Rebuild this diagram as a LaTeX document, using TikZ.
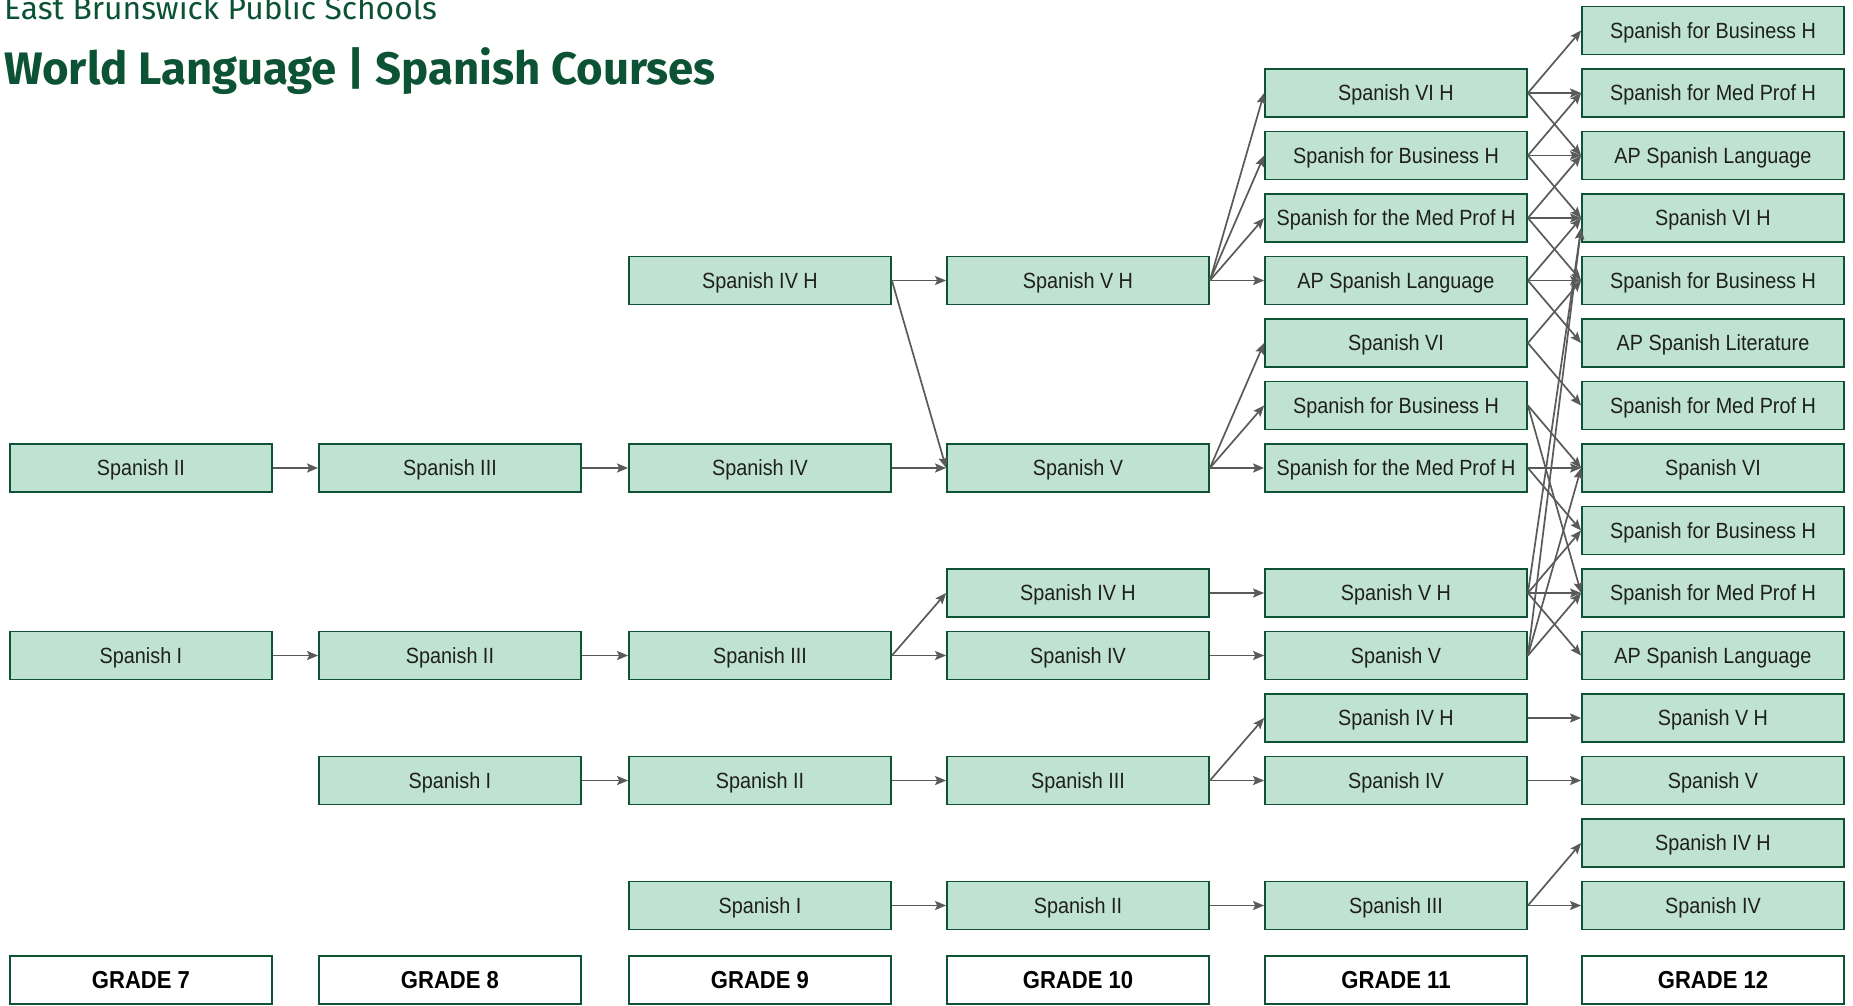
\documentclass[tikz,border=0pt]{standalone}
\usepackage{fontspec}
\setmainfont{Liberation Sans}
\newfontfamily\boxfont[FakeStretch=0.9]{Liberation Sans}
\newfontfamily\ttlfont{Fira Sans}
\usetikzlibrary{arrows.meta}
\definecolor{boxfill}{RGB}{191,226,210}
\definecolor{boxline}{RGB}{14,84,52}
\definecolor{arrowc}{RGB}{90,90,90}
\definecolor{titlec}{RGB}{12,82,52}
\begin{document}
\begin{tikzpicture}[x=1pt,y=-1pt,
 course/.style={draw=boxline, fill=boxfill, line width=1.8pt, minimum width=262pt, minimum height=48pt, inner sep=0pt, text depth=0pt, font=\boxfont\fontsize{22}{24}\selectfont, text=black!88},
 grade/.style={draw=boxline, fill=white, line width=1.5pt, minimum width=262pt, minimum height=48pt, inner sep=0pt, text depth=0pt, font=\boxfont\bfseries\fontsize{24.5}{26}\selectfont},
 arr/.style={draw=arrowc, line width=1.7pt, -{Stealth[length=11pt,width=9pt,inset=2pt]}}]
\useasboundingbox (0,0) rectangle (1853,1005);
% titles
\node[anchor=base west, inner sep=0pt, text=titlec, font=\ttlfont\fontsize{31.8}{36}\selectfont] (sub) at (4,19) {East Brunswick Public Schools};
\node[anchor=base west, inner sep=0pt, text=titlec, font=\ttlfont\bfseries\fontsize{45.5}{54}\selectfont] (ttl) at (4,84) {World Language | Spanish Courses};
% grade 7
\node[course] (a7) at (141,468) {Spanish II};
\node[course] (a10) at (141,655.5) {Spanish I};
% grade 8
\node[course] (b7) at (450,468) {Spanish III};
\node[course] (b10) at (450,655.5) {Spanish II};
\node[course] (b12) at (450,780.5) {Spanish I};
% grade 9
\node[course] (c4) at (760,280.5) {Spanish IV H};
\node[course] (c7) at (760,468) {Spanish IV};
\node[course] (c10) at (760,655.5) {Spanish III};
\node[course] (c12) at (760,780.5) {Spanish II};
\node[course] (c14) at (760,905.5) {Spanish I};
% grade 10
\node[course] (d4) at (1078,280.5) {Spanish V H};
\node[course] (d7) at (1078,468) {Spanish V};
\node[course] (d9) at (1078,593) {Spanish IV H};
\node[course] (d10) at (1078,655.5) {Spanish IV};
\node[course] (d12) at (1078,780.5) {Spanish III};
\node[course] (d14) at (1078,905.5) {Spanish II};
% grade 11
\node[course] (e1) at (1396,93) {Spanish VI H};
\node[course] (e2) at (1396,155.5) {Spanish for Business H};
\node[course] (e3) at (1396,218) {Spanish for the Med Prof H};
\node[course] (e4) at (1396,280.5) {AP Spanish Language};
\node[course] (e5) at (1396,343) {Spanish VI};
\node[course] (e6) at (1396,405.5) {Spanish for Business H};
\node[course] (e7) at (1396,468) {Spanish for the Med Prof H};
\node[course] (e9) at (1396,593) {Spanish V H};
\node[course] (e10) at (1396,655.5) {Spanish V};
\node[course] (e11) at (1396,718) {Spanish IV H};
\node[course] (e12) at (1396,780.5) {Spanish IV};
\node[course] (e14) at (1396,905.5) {Spanish III};
% grade 12
\node[course] (f0) at (1713,30.5) {Spanish for Business H};
\node[course] (f1) at (1713,93) {Spanish for Med Prof H};
\node[course] (f2) at (1713,155.5) {AP Spanish Language};
\node[course] (f3) at (1713,218) {Spanish VI H};
\node[course] (f4) at (1713,280.5) {Spanish for Business H};
\node[course] (f5) at (1713,343) {AP Spanish Literature};
\node[course] (f6) at (1713,405.5) {Spanish for Med Prof H};
\node[course] (f7) at (1713,468) {Spanish VI};
\node[course] (f8) at (1713,530.5) {Spanish for Business H};
\node[course] (f9) at (1713,593) {Spanish for Med Prof H};
\node[course] (f10) at (1713,655.5) {AP Spanish Language};
\node[course] (f11) at (1713,718) {Spanish V H};
\node[course] (f12) at (1713,780.5) {Spanish V};
\node[course] (f13) at (1713,843) {Spanish IV H};
\node[course] (f14) at (1713,905.5) {Spanish IV};
% grade labels
\node[grade] (g7) at (141,980) {GRADE 7};
\node[grade] (g8) at (450,980) {GRADE 8};
\node[grade] (g9) at (760,980) {GRADE 9};
\node[grade] (g10) at (1078,980) {GRADE 10};
\node[grade] (g11) at (1396,980) {GRADE 11};
\node[grade] (g12) at (1713,980) {GRADE 12};
% connectors grade 7 -> 8
\draw[arr] (a7.east) -- (b7.west);
\draw[arr] (a10.east) -- (b10.west);
% 8 -> 9
\draw[arr] (b7.east) -- (c7.west);
\draw[arr] (b10.east) -- (c10.west);
\draw[arr] (b12.east) -- (c12.west);
% 9 -> 10
\draw[arr] (c4.east) -- (d4.west);
\draw[arr] (c4.east) -- (d7.west);
\draw[arr] (c7.east) -- (d7.west);
\draw[arr] (c10.east) -- (d9.west);
\draw[arr] (c10.east) -- (d10.west);
\draw[arr] (c12.east) -- (d12.west);
\draw[arr] (c14.east) -- (d14.west);
% 10 -> 11
\draw[arr] (d4.east) -- (e1.west);
\draw[arr] (d4.east) -- (e2.west);
\draw[arr] (d4.east) -- (e3.west);
\draw[arr] (d4.east) -- (e4.west);
\draw[arr] (d7.east) -- (e5.west);
\draw[arr] (d7.east) -- (e6.west);
\draw[arr] (d7.east) -- (e7.west);
\draw[arr] (d9.east) -- (e9.west);
\draw[arr] (d10.east) -- (e10.west);
\draw[arr] (d12.east) -- (e11.west);
\draw[arr] (d12.east) -- (e12.west);
\draw[arr] (d14.east) -- (e14.west);
% 11 -> 12
\draw[arr] (e1.east) -- (f0.west);
\draw[arr] (e1.east) -- (f1.west);
\draw[arr] (e1.east) -- (f2.west);
\draw[arr] (e2.east) -- (f1.west);
\draw[arr] (e2.east) -- (f2.west);
\draw[arr] (e2.east) -- (f3.west);
\draw[arr] (e3.east) -- (f2.west);
\draw[arr] (e3.east) -- (f3.west);
\draw[arr] (e3.east) -- (f4.west);
\draw[arr] (e4.east) -- (f3.west);
\draw[arr] (e4.east) -- (f4.west);
\draw[arr] (e4.east) -- (f5.west);
\draw[arr] (e5.east) -- (f4.west);
\draw[arr] (e5.east) -- (f6.west);
\draw[arr] (e6.east) -- (f7.west);
\draw[arr] (e6.east) -- (f9.west);
\draw[arr] (e7.east) -- (f7.west);
\draw[arr] (e7.east) -- (f8.west);
\draw[arr] (e9.east) -- ([yshift=-10pt]f3.west);
\draw[arr] (e9.east) -- (f8.west);
\draw[arr] (e9.east) -- (f9.west);
\draw[arr] (e9.east) -- (f10.west);
\draw[arr] (e10.east) -- ([yshift=-10pt]f3.west);
\draw[arr] (e10.east) -- (f7.west);
\draw[arr] (e10.east) -- (f9.west);
\draw[arr] (e11.east) -- (f11.west);
\draw[arr] (e12.east) -- (f12.west);
\draw[arr] (e14.east) -- (f13.west);
\draw[arr] (e14.east) -- (f14.west);
\end{tikzpicture}
\end{document}
